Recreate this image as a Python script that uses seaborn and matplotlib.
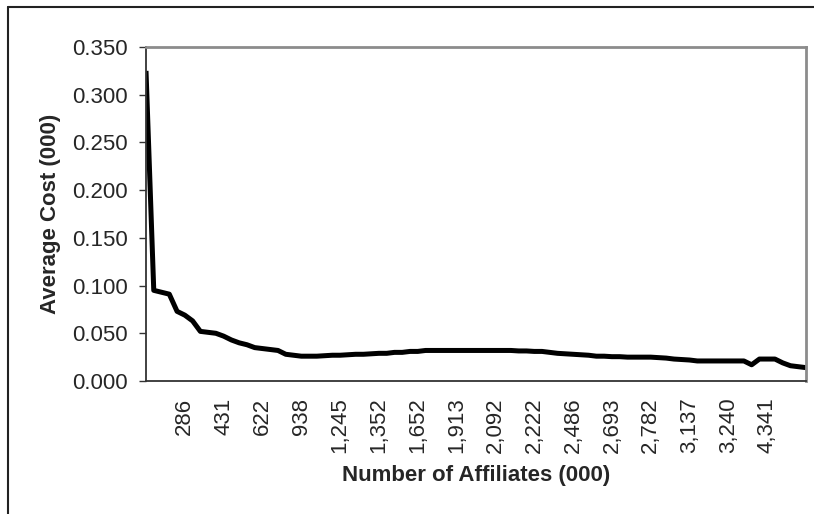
import numpy as np
import pandas as pd
import seaborn as sns
import matplotlib.pyplot as plt
from matplotlib.lines import Line2D

# average cost (000) per category, one category every 1/5 of a labelled step
avg_cost = [
    0.325, 0.095, 0.093, 0.091, 0.073, 0.069, 0.063, 0.052, 0.051, 0.050,
    0.047, 0.043, 0.040, 0.038, 0.035, 0.034, 0.033, 0.032, 0.028, 0.027,
    0.026, 0.026, 0.026, 0.0265, 0.027, 0.027, 0.0275, 0.028, 0.028, 0.0285,
    0.029, 0.029, 0.030, 0.030, 0.031, 0.031, 0.032, 0.032, 0.032, 0.032,
    0.032, 0.032, 0.032, 0.032, 0.032, 0.032, 0.032, 0.032, 0.0315, 0.0315,
    0.031, 0.031, 0.030, 0.029, 0.0285, 0.028, 0.0275, 0.027, 0.026, 0.026,
    0.0255, 0.0255, 0.025, 0.025, 0.025, 0.025, 0.0245, 0.024, 0.023, 0.0225,
    0.022, 0.021, 0.021, 0.021, 0.021, 0.021, 0.021, 0.021, 0.017, 0.023,
    0.023, 0.023, 0.019, 0.016, 0.015, 0.014,
]

tick_labels = [
    '286', '431', '622', '938', '1,245', '1,352', '1,652', '1,913',
    '2,092', '2,222', '2,486', '2,693', '2,782', '3,137', '3,240', '4,341',
]
label_step = 5

y_ticks = [0.0, 0.05, 0.10, 0.15, 0.20, 0.25, 0.30, 0.35]

df = pd.DataFrame({'pos': np.arange(len(avg_cost)), 'cost': avg_cost})

sns.set_theme(style='white')
plt.rcParams['font.family'] = ['Liberation Sans', 'DejaVu Sans']

fig = plt.figure(figsize=(8.14, 5.14), dpi=100)
ax = fig.add_axes([146 / 814, 1 - 381 / 514, 660 / 814, 334 / 514])

sns.lineplot(data=df, x='pos', y='cost', ax=ax, color='black',
             linewidth=3.6, solid_joinstyle='round', solid_capstyle='butt')

ax.set_xlim(0, len(avg_cost) - 1)
ax.set_ylim(0, 0.35)

ax.set_yticks(y_ticks)
ax.set_yticklabels([f'{v:.3f}' for v in y_ticks], fontsize=16)
ax.tick_params(axis='y', which='major', left=True, length=5, width=1,
               color='#333333', pad=8)

xpos = [label_step * (i + 1) for i in range(len(tick_labels))]
ax.set_xticks(xpos)
ax.set_xticklabels(tick_labels, rotation=90, fontsize=16, va='top')
ax.tick_params(axis='x', bottom=False, length=0, pad=12)

ax.set_ylabel('Average Cost (000)', fontsize=16, fontweight='bold',
              labelpad=8)
ax.set_xlabel('Number of Affiliates (000)', fontsize=16, fontweight='bold',
              labelpad=8)

for side in ['left', 'bottom']:
    ax.spines[side].set_color('#333333')
    ax.spines[side].set_linewidth(1.3)
for side in ['top', 'right']:
    ax.spines[side].set_color('#8c8c8c')
    ax.spines[side].set_linewidth(2)
ax.grid(False)

# outer chart-area border (bottom and right fall outside the image)
fig.add_artist(Line2D([8 / 814, 1.0], [1 - 7 / 514, 1 - 7 / 514],
                      transform=fig.transFigure, color='#222222', lw=1.5))
fig.add_artist(Line2D([8 / 814, 8 / 814], [0.0, 1 - 7 / 514],
                      transform=fig.transFigure, color='#222222', lw=1.5))

fig.savefig('out.png', dpi=100)
